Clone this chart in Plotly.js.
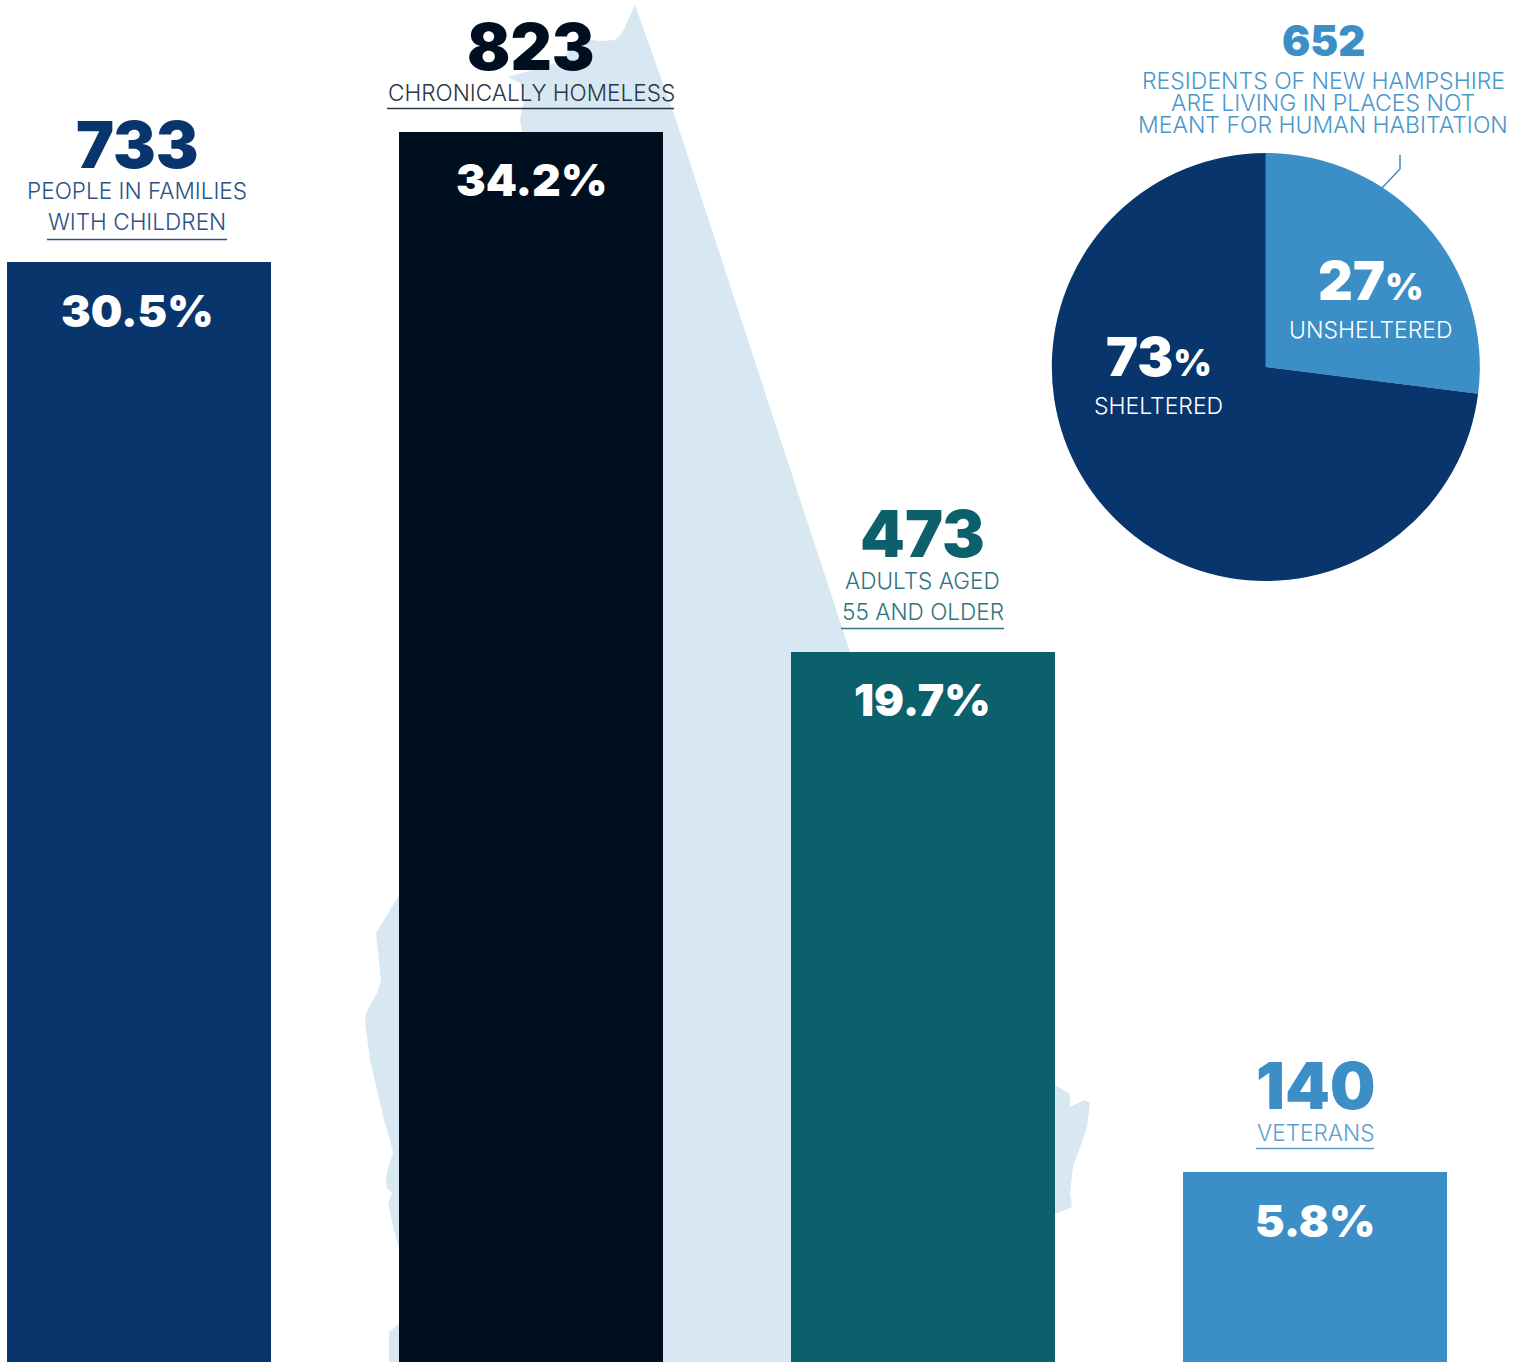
<!DOCTYPE html>
<html>
<head>
<meta charset="utf-8">
<script src="https://cdn.plot.ly/plotly-3.0.1.min.js"></script>
<style>html,body{margin:0;padding:0;background:#fff}#chart{width:1521px;height:1362px}</style>
</head>
<body>
<div id="chart"></div>
<script>
// ---- Data ----
const categories = ['People in families with children', 'Chronically homeless', 'Adults aged 55 and older', 'Veterans'];
const counts = ['733', '823', '473', '140'];
const percents = ['30.5%', '34.2%', '19.7%', '5.8%'];
// drawn bar heights as they appear in the picture (the source bars are cropped at the bottom)
const barHeights = [733.4, 820, 473.4, 127];
const barColors = ['#08356c', '#000f1f', '#0b606c', '#3b8ec6'];
const labelLines = [['PEOPLE IN FAMILIES', 'WITH CHILDREN'], ['CHRONICALLY HOMELESS'], ['ADULTS AGED', '55 AND OLDER'], ['VETERANS']];

const pieLabels = ['UNSHELTERED', 'SHELTERED'];
const pieValues = [27, 73];
const pieColors = ['#3b8ec6', '#08356c'];
const pieCount = '652';
const pieTitle = ['RESIDENTS OF NEW HAMPSHIRE', 'ARE LIVING IN PLACES NOT', 'MEANT FOR HUMAN HABITATION'];

// background state silhouette, traced in page units
const mapX = [635,622,615,600,580,560,508,520,525,520,522,410,398,387,376,381,377,366,365,370,383,384,390,393,388,386,387,392,388,393,398,410,410,399,389,389,1055,1055,1072,1070,1073,1087,1090,1085,1070,1070,1055,850,676,635];
const mapY = [5,33,40,41,38,62,77,83,97,120,132,880,897,915,933,980,993,1013,1023,1060,1118,1120,1140,1153,1168,1177,1188,1193,1203,1227,1245,1270,1300,1324,1332,1362,1362,1214,1207,1193,1167,1128,1103,1100,1107,1094,1085,652,120,5];

// ---- Layout helpers ----
const W = 1521, H = 1362;
const px = x => x / W, py = y => 1 - y / H;
const NUM = 'Inter, Roboto, sans-serif';
const LIGHT = 'Inter, "Open Sans", sans-serif';
const textCentres = [137, 531, 923, 1315];
const numY = [144, 46, 534, 1085];
const pctY = [310.5, 180.5, 700.5, 1220.5];
const labelY = [[190.5, 222], [93], [580.5, 612], [1132]];
const ruleY = [239.5, 108.5, 628.5, 1148.5];
const ruleX = [[47, 227], [387, 674], [841, 1004], [1256, 1374]];
const labelColors = ['#2a5285', '#2b3746', '#2f7480', '#5aa0d0'];

function note(text, x, y, size, color, weight, family) {
  return {text, x: px(x), y: py(y), xref: 'paper', yref: 'paper', xanchor: 'center', yanchor: 'middle',
    showarrow: false, align: 'center', font: {family: family || NUM, size, color, weight: weight || 400}};
}

const annotations = [], shapes = [];
categories.forEach((c, i) => {
  annotations.push(note(counts[i], textCentres[i], numY[i], 64, barColors[i], 900));
  annotations.push(note(percents[i], textCentres[i], pctY[i], 44.5, '#ffffff', 900));
  labelLines[i].forEach((t, k) => annotations.push(note(t, textCentres[i], labelY[i][k], 22.6, labelColors[i], 300, LIGHT)));
  shapes.push({type: 'line', xref: 'paper', yref: 'paper', x0: px(ruleX[i][0]), x1: px(ruleX[i][1]), y0: py(ruleY[i]), y1: py(ruleY[i]),
    line: {color: labelColors[i], width: 1.5}});
});
annotations.push(note(pieCount, 1323, 40, 42, '#3b8ec6', 900));
[80, 102, 124].forEach((y, k) => annotations.push(note(pieTitle[k], 1323, y + 1, 23, '#4a97cc', 300, LIGHT)));
annotations.push(note(pieValues[0] + '<span style="font-size:37px">%</span>', 1371, 281, 54, '#ffffff', 900));
annotations.push(note(pieLabels[0], 1371, 330.5, 23, '#ffffff', 300, LIGHT));
annotations.push(note(pieValues[1] + '<span style="font-size:37px">%</span>', 1158.5, 357, 54, '#ffffff', 900));
annotations.push(note(pieLabels[1], 1158.5, 406.5, 23, '#ffffff', 300, LIGHT));

// leader line from the pie to its caption
shapes.push({type: 'path', xref: 'paper', yref: 'paper', line: {color: '#3b8ec6', width: 1.5},
  path: `M ${px(1400)} ${py(155)} L ${px(1400)} ${py(169)} L ${px(1382)} ${py(188)}`});

const cx = 1265.8, cy = 367, r = 214;
const traces = [
  {type: 'scatter', mode: 'lines', x: mapX, y: mapY, xaxis: 'x', yaxis: 'y', fill: 'toself', fillcolor: '#d8e8f3',
    line: {width: 0, color: '#d8e8f3'}, hoverinfo: 'skip', showlegend: false},
  {type: 'bar', x: [0, 1, 2, 3], y: barHeights, xaxis: 'x2', yaxis: 'y2', width: 264 / 392,
    marker: {color: barColors, line: {width: 0}}, customdata: categories, hovertemplate: '%{customdata}<extra></extra>', showlegend: false},
  {type: 'pie', labels: pieLabels, values: pieValues, sort: false, direction: 'clockwise', rotation: 0,
    textinfo: 'none', marker: {colors: pieColors, line: {width: 0}}, showlegend: false,
    domain: {x: [px(cx - r), px(cx + r)], y: [py(cy + r), py(cy - r)]}}
];

const hidden = {visible: false, showgrid: false, zeroline: false, fixedrange: true};
const layout = {
  width: W, height: H, margin: {l: 0, r: 0, t: 0, b: 0}, paper_bgcolor: '#ffffff', plot_bgcolor: 'rgba(0,0,0,0)',
  showlegend: false, bargap: 0, annotations, shapes,
  xaxis: {...hidden, range: [0, W]},
  yaxis: {...hidden, range: [H, 0]},
  xaxis2: {...hidden, overlaying: 'x', range: [-139 / 392, (W - 139) / 392]},
  yaxis2: {...hidden, overlaying: 'y', range: [0, H / 1.5]}
};
Plotly.newPlot('chart', traces, layout, {displayModeBar: false, staticPlot: true});
</script>
</body>
</html>
